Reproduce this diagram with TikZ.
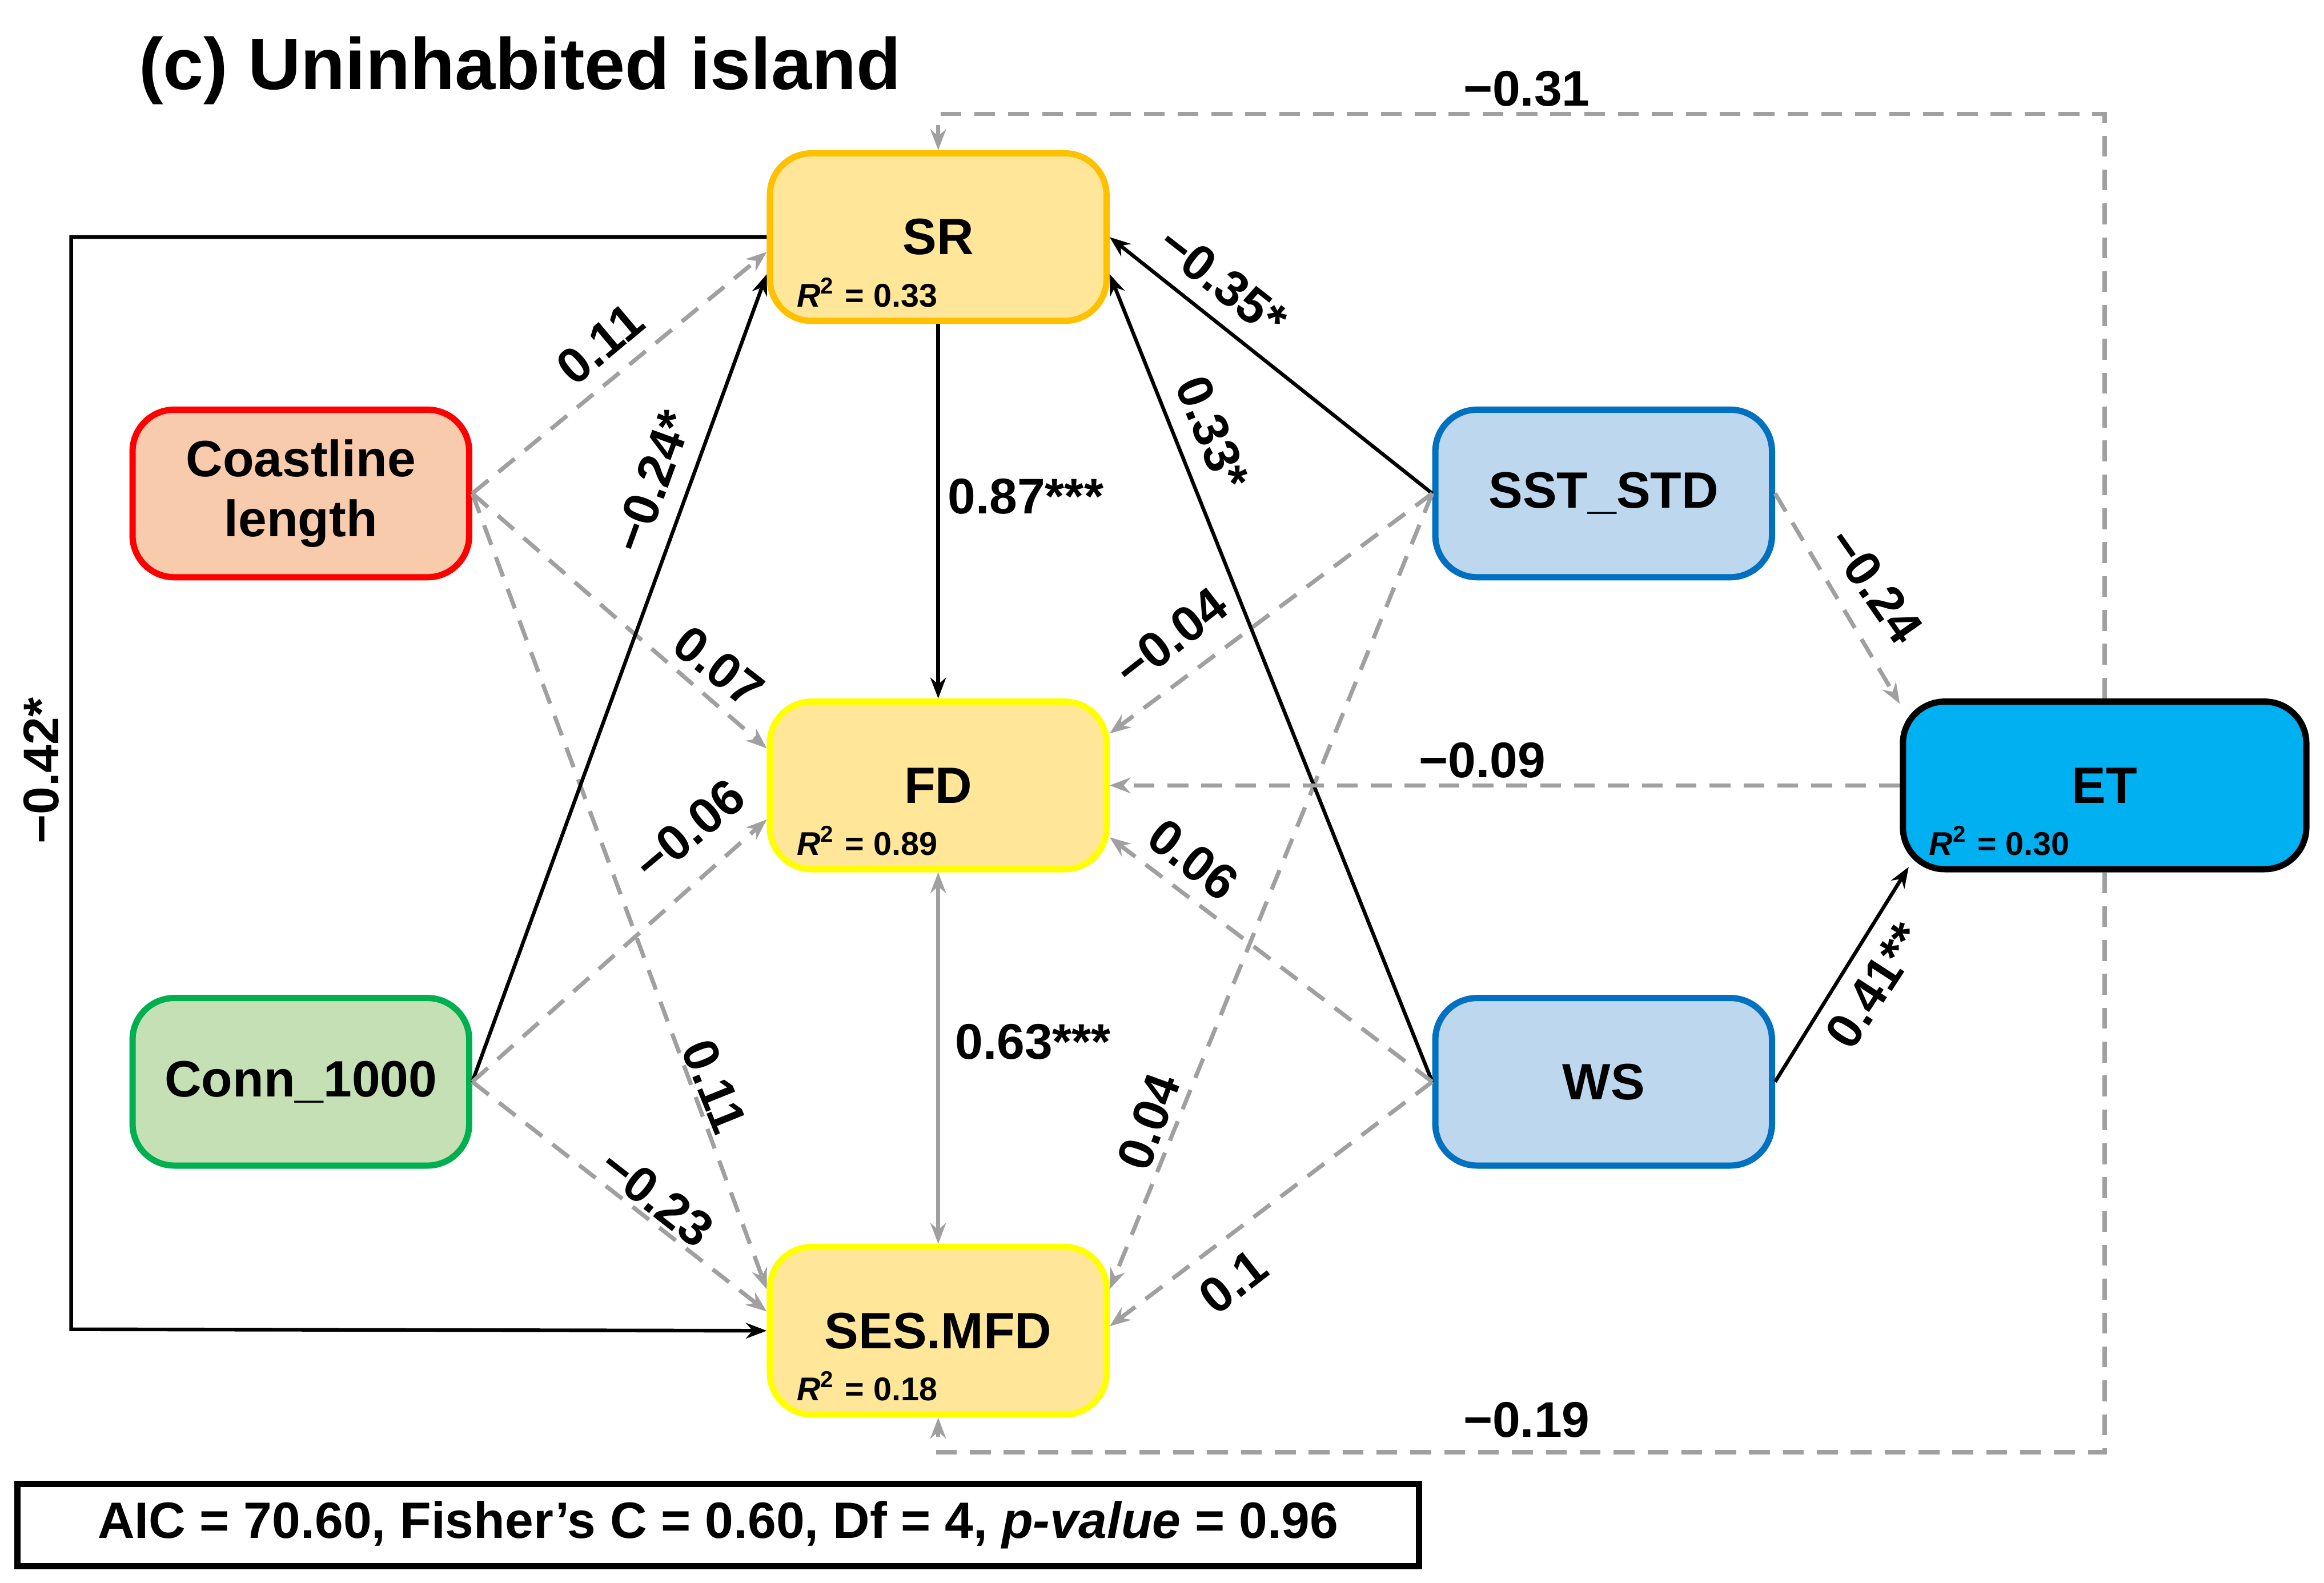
\documentclass[tikz,border=0pt]{standalone}
\usepackage{fontspec}
\setmainfont{Liberation Sans}
\usetikzlibrary{arrows.meta}
\definecolor{yf}{HTML}{FFE699}
\definecolor{yb}{HTML}{FFC000}
\definecolor{yb2}{HTML}{FFFF00}
\definecolor{gy}{HTML}{A0A0A0}
\begin{document}
\begin{tikzpicture}[x=0.01cm,y=-0.01cm,
 box/.style={draw,line width=1.2pt,rounded corners=8pt,minimum width=2.27cm,minimum height=1.13cm,align=center,font=\fontsize{9.8}{11.5}\selectfont\bfseries},
 sol/.style={black,line width=0.7pt,-{Stealth[length=4pt,width=3pt]}},
 das/.style={gy,line width=0.8pt,dash pattern=on 4pt off 2.5pt,-{Stealth[length=4pt,width=3pt]}},
 lab/.style={font=\fontsize{9.6}{11}\selectfont\bfseries,inner sep=0pt},
 rr/.style={font=\fontsize{6.3}{7}\selectfont\bfseries,anchor=south west,inner sep=0pt}]
\useasboundingbox (0,0) rectangle (1568,1068);
\node[anchor=north west,font=\fontsize{14}{16}\selectfont\bfseries,inner sep=0pt] (title) at (93,24) {(c) Uninhabited island};
\node[box,fill=yf,draw=yb] (SR) at (633,160) {SR};
\node[box,fill=yf,draw=yb2] (FD) at (633,530) {FD};
\node[box,fill=yf,draw=yb2] (SES) at (633,898) {SES.MFD};
\node[box,fill={rgb,255:red,248;green,203;blue,173},draw=red] (CL) at (203,333) {Coastline\\length};
\node[box,fill={rgb,255:red,197;green,224;blue,180},draw={rgb,255:red,0;green,176;blue,80}] (CO) at (203,730) {Conn\_1000};
\node[box,fill={rgb,255:red,189;green,215;blue,238},draw={rgb,255:red,0;green,112;blue,192}] (SST) at (1082,333) {SST\_STD};
\node[box,fill={rgb,255:red,189;green,215;blue,238},draw={rgb,255:red,0;green,112;blue,192}] (WS) at (1082,730) {WS};
\node[box,fill={rgb,255:red,0;green,176;blue,240},draw=black,minimum width=2.72cm] (ET) at (1420,530) {ET};
\node[rr] (r1) at (537,208) {\textit{R}$^{\mathbf 2}$ = 0.33};
\node[rr] (r2) at (537,578) {\textit{R}$^{\mathbf 2}$ = 0.89};
\node[rr] (r3) at (537,946) {\textit{R}$^{\mathbf 2}$ = 0.18};
\node[rr] (r4) at (1301,578) {\textit{R}$^{\mathbf 2}$ = 0.30};
\node[draw,line width=1.2pt,minimum width=9.45cm,minimum height=0.54cm,font=\fontsize{9.8}{11}\selectfont\bfseries] (fit) at (484.5,1029) {AIC = 70.60, Fisher’s C = 0.60, Df = 4, \textit{p-value} = 0.96};
% connectors
\draw[sol] (SR) -- (FD);
\draw[gy,line width=0.8pt,{Stealth[length=4pt,width=3pt]}-{Stealth[length=4pt,width=3pt]}] (FD) -- (SES);
\draw[das] (CL.east) -- ([shift={(0,10)}]SR.west);
\draw[das] (CL.east) -- ([shift={(0,-25)}]FD.west);
\draw[das] (CL.east) -- ([shift={(0,-28)}]SES.west);
\draw[sol] (CO.east) -- ([shift={(0,25)}]SR.west);
\draw[das] (CO.east) -- ([shift={(0,23)}]FD.west);
\draw[das] (CO.east) -- ([shift={(0,-13)}]SES.west);
\draw[sol] (SR.west) -- (48,160) -- (48,897) -- (SES.west);
\draw[sol] (SST.west) -- (SR.east);
\draw[das] (SST.west) -- ([shift={(0,-35)}]FD.east);
\draw[das] (SST.west) -- ([shift={(0,-28)}]SES.east);
\draw[das] (SST.east) -- ([shift={(0,-55)}]ET.west);
\draw[sol] (WS.west) -- ([shift={(0,25)}]SR.east);
\draw[das] (WS.west) -- ([shift={(0,35)}]FD.east);
\draw[das] (WS.west) -- ([shift={(0,-3)}]SES.east);
\draw[sol] (WS.east) -- ([shift={(6,55)}]ET.west);
\draw[das] (ET.west) -- (FD.east);
\draw[das] (ET.north) -- (1420,77) -- (633,77) -- (SR.north);
\draw[das] (ET.south) -- (1420,980) -- (633,980) -- (SES.south);
% labels
\node[lab] (l1) at (1030,60) {−0.31};
\node[lab] (l2) at (1030,958) {−0.19};
\node[lab,rotate=90] (l3) at (28,520) {−0.42*};
\node[lab,rotate=40] (l4) at (405,232) {0.11};
\node[lab,rotate=70] (l5) at (440,325) {−0.24*};
\node[lab] (l6) at (692,335) {0.87***};
\node[lab,rotate=-38] (l7) at (825,190) {−0.35*};
\node[lab,rotate=-68] (l8) at (818,292) {0.33*};
\node[lab,rotate=-38] (l9) at (485,450) {0.07};
\node[lab,rotate=38] (l10) at (790,430) {−0.04};
\node[lab] (l11) at (1000,513) {−0.09};
\node[lab,rotate=40] (l12) at (465,560) {−0.06};
\node[lab,rotate=-38] (l13) at (805,580) {0.06};
\node[lab] (l14) at (697,703) {0.63***};
\node[lab,rotate=-68] (l15) at (482,733) {0.11};
\node[lab,rotate=70] (l16) at (775,757) {0.04};
\node[lab,rotate=57] (l17) at (1265,665) {0.41**};
\node[lab,rotate=-55] (l18) at (1265,395) {−0.24};
\node[lab,rotate=-38] (l19) at (443,808) {−0.23};
\node[lab,rotate=38] (l20) at (832,865) {0.1};
\end{tikzpicture}
\end{document}
